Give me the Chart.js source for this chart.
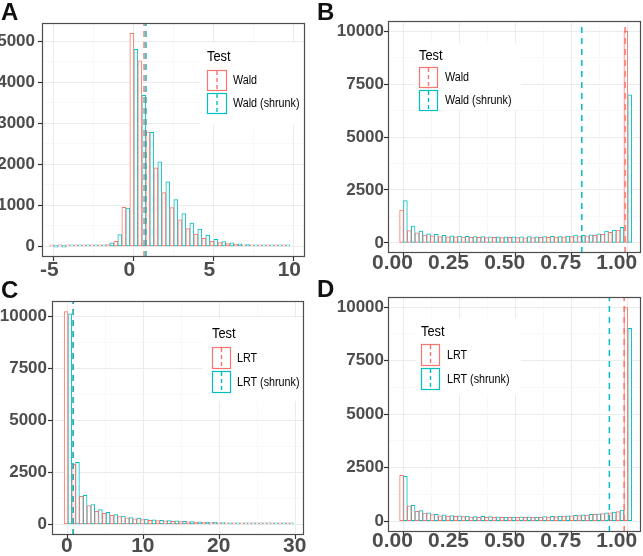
<!DOCTYPE html>
<html><head><meta charset="utf-8">
<script src="https://cdn.jsdelivr.net/npm/chart.js@4.4.1/dist/chart.umd.min.js"></script>
<style>
html,body{margin:0;padding:0;background:#fff;}
#wrap{position:relative;width:643px;height:556px;overflow:hidden;background:#fff;}
canvas{position:absolute;}
.lab{position:absolute;font:bold 24px "Liberation Sans",Arial,sans-serif;line-height:24px;color:#111;z-index:5;}
</style></head><body>
<div id="wrap">
<canvas id="cA" width="321" height="278" style="left:0;top:0;width:321px;height:278px"></canvas>
<canvas id="cB" width="322" height="278" style="left:321px;top:0;width:322px;height:278px"></canvas>
<canvas id="cC" width="321" height="278" style="left:0;top:278px;width:321px;height:278px"></canvas>
<canvas id="cD" width="322" height="278" style="left:321px;top:278px;width:322px;height:278px"></canvas>
<div class="lab" style="left:1px;top:0px">A</div>
<div class="lab" style="left:317px;top:0px">B</div>
<div class="lab" style="left:1px;top:278px">C</div>
<div class="lab" style="left:317px;top:277px">D</div>
</div>
<script>
// ---------------- data ----------------
const SERIES_WALD = ['Wald', 'Wald (shrunk)'];
const SERIES_LRT = ['LRT', 'LRT (shrunk)'];

// Panel A: Wald statistic histogram
const A_BINS = [-4.97,-4.47,-3.97,-3.47,-2.97,-2.47,-1.97,-1.47,-0.97,-0.47,0.03,0.53,1.03,1.53,2.03,2.53,3.03,3.53,4.03,4.53,5.03,5.53,6.03,6.53,7.03,7.53,8.03,8.53,9.03,9.53];
const A_WALD = [4,1,1,2,3,8,18,45,125,950,5190,4520,2790,1915,1310,945,646,436,299,194,121,90,65,50,35,25,20,15,10,8];
const A_WALD_SHRUNK = [0,0,1,2,5,12,30,85,290,930,4800,3680,2780,2060,1570,1140,800,566,420,275,170,115,85,60,42,32,25,15,10,5];
const A_MEANS = [0.67, 0.79];
const A_X_TICKS = [-5, 0, 5, 10];
const A_X_LABELS = ['-5', '0', '5', '10'];
const A_Y_TICKS = [0, 1000, 2000, 3000, 4000, 5000];
const A_Y_LABELS = ['0', '1000', '2000', '3000', '4000', '5000'];

// Panels B and D: p-value histograms
const P_BINS = [0,0.0345,0.069,0.1034,0.1379,0.1724,0.2069,0.2414,0.2759,0.3103,0.3448,0.3793,0.4138,0.4483,0.4828,0.5172,0.5517,0.5862,0.6207,0.6552,0.6897,0.7241,0.7586,0.7931,0.8276,0.8621,0.8966,0.931,0.9655,1.0];
const P_X_TICKS = [0, 0.25, 0.5, 0.75, 1];
const P_X_LABELS = ['0.00', '0.25', '0.50', '0.75', '1.00'];
const P_Y_TICKS = [0, 2500, 5000, 7500, 10000];
const P_Y_LABELS = ['0', '2500', '5000', '7500', '10000'];

const B_WALD = [1550,580,470,370,330,300,290,280,270,260,260,250,260,250,260,250,240,250,260,260,270,280,300,300,330,350,400,500,600,9990];
const B_WALD_SHRUNK = [2000,790,560,430,400,350,330,320,310,300,300,290,290,290,280,290,300,290,300,310,300,320,370,360,380,420,550,600,730,7000];
const B_MEANS = [0.988, 0.795];

// Panel C: LRT statistic histogram
const C_BINS = [0,1.007,2.014,3.021,4.028,5.035,6.042,7.049,8.056,9.063,10.07,11.077,12.084,13.091,14.098,15.105,16.112,17.119,18.126,19.133,20.14,21.147,22.154,23.161,24.168,25.175,26.182,27.189,28.196,29.203];
const C_LRT = [10210,2880,1344,896,624,530,430,380,310,270,230,200,180,170,150,140,120,110,100,90,80,70,65,60,55,50,45,40,35,30];
const C_LRT_SHRUNK = [10100,2976,1392,950,704,580,470,400,330,300,260,220,200,180,170,150,130,120,110,100,90,80,70,65,60,55,50,40,35,25];
const C_MEANS = [0.68, 0.70];
const C_X_TICKS = [0, 10, 20, 30];
const C_X_LABELS = ['0', '10', '20', '30'];

const D_LRT = [2150,717,470,380,310,260,240,230,220,200,190,190,180,180,180,190,180,180,190,200,220,240,260,270,290,330,360,400,450,9970];
const D_LRT_SHRUNK = [2103,748,500,400,330,300,270,250,240,220,230,220,210,200,200,210,210,200,220,230,240,260,280,300,320,350,400,430,520,9000];
const D_MEANS = [0.984, 0.918];

// ---------------- styling ----------------
const RED = '#F8766D', TEAL = '#00BFC4';
const FONT = '"Liberation Sans", Arial, sans-serif';

function narrowText(ctx, txt, x, y, sx) {
  ctx.save();
  ctx.translate(x, y);
  ctx.scale(sx, 1);
  ctx.fillText(txt, 0, 0);
  ctx.restore();
}

const ggPlugin = {
  id: 'ggPanel',
  afterDatasetsDraw(chart, args, o) {
    const ctx = chart.ctx, a = chart.chartArea;
    ctx.save();
    // legend
    const L = o.legend;
    ctx.fillStyle = '#fff';
    ctx.fillRect(L.x, L.y, L.w, L.h);
    ctx.fillStyle = '#000';
    ctx.font = '15px ' + FONT;
    ctx.textBaseline = 'alphabetic';
    ctx.textAlign = 'left';
    narrowText(ctx, 'Test', L.kx, L.ty, 0.86);
    const bars = chart.data.datasets.filter(d => d.type !== 'line');
    bars.forEach((d, i) => {
      const ky = L.ky[i];
      ctx.fillStyle = '#fff';
      ctx.fillRect(L.kx, ky, L.kw, L.kh);
      ctx.strokeStyle = d.borderColor;
      ctx.lineWidth = 1.2;
      ctx.setLineDash([]);
      ctx.strokeRect(L.kx + 0.5, ky + 0.5, L.kw - 1, L.kh - 1);
      ctx.lineWidth = 1.4;
      ctx.setLineDash([4, 3]);
      ctx.beginPath();
      ctx.moveTo(L.kx + L.kw / 2, ky + 1);
      ctx.lineTo(L.kx + L.kw / 2, ky + L.kh - 1);
      ctx.stroke();
      ctx.setLineDash([]);
      ctx.fillStyle = '#000';
      ctx.font = '12.5px ' + FONT;
      ctx.textBaseline = 'middle';
      narrowText(ctx, d.label, L.lx, ky + L.kh / 2 + 0.5, 0.86);
    });
    // panel border
    ctx.strokeStyle = '#4D4D4D';
    ctx.lineWidth = 1.2;
    ctx.strokeRect(Math.round(a.left) + 0.5, Math.round(a.top) + 0.5, Math.round(a.right - a.left) - 1, Math.round(a.bottom - a.top) - 1);
    ctx.restore();
  }
};

function axis(dir, min, max, majors, labels, minors, size, fontSize, pad, loff) {
  const isMajor = v => majors.some(m => Math.abs(m - v) < 1e-9);
  return {
    type: 'linear', min: min, max: max, offset: false,
    afterBuildTicks: s => { s.ticks = majors.concat(minors).sort((p, q) => p - q).map(v => ({ value: v })); },
    afterFit: s => {
      if (dir === 'y') s.width = size; else s.height = size;
      s.paddingLeft = 0; s.paddingRight = 0; s.paddingTop = 0; s.paddingBottom = 0;
    },
    ticks: {
      autoSkip: false, maxRotation: 0, minRotation: 0,
      padding: pad, labelOffset: loff,
      color: '#4D4D4D',
      font: { family: FONT, size: fontSize, weight: 'bold', lineHeight: 1 },
      callback: v => { const i = majors.findIndex(m => Math.abs(m - v) < 1e-9); return i >= 0 ? labels[i] : ''; }
    },
    grid: {
      offset: false,
      drawTicks: true, tickLength: 4,
      color: c => (c.tick && isMajor(c.tick.value)) ? '#EBEBEB' : '#F5F5F5',
      lineWidth: c => (c.tick && isMajor(c.tick.value)) ? 1 : 0.7,
      tickColor: c => (c.tick && isMajor(c.tick.value)) ? '#333333' : 'rgba(0,0,0,0)',
      tickWidth: 1.2
    },
    border: { display: false }
  };
}

function panel(id, cfg) {
  const datasets = [
    { type: 'bar', label: cfg.names[0], data: cfg.bins.map((b, i) => ({ x: b, y: cfg.s1[i] })),
      borderColor: RED, backgroundColor: '#fff', borderWidth: 1, borderSkipped: false, minBarLength: 1.5,
      categoryPercentage: 1, barPercentage: 1, order: 2 },
    { type: 'bar', label: cfg.names[1], data: cfg.bins.map((b, i) => ({ x: b, y: cfg.s2[i] })),
      borderColor: TEAL, backgroundColor: '#fff', borderWidth: 1, borderSkipped: false, minBarLength: 1.5,
      categoryPercentage: 1, barPercentage: 1, order: 2 },
    { type: 'line', label: cfg.names[0] + ' mean', data: [{ x: cfg.means[0], y: cfg.ymin }, { x: cfg.means[0], y: cfg.ymax }],
      borderColor: RED, borderWidth: 1.5, borderDash: [6, 5], pointRadius: 0, fill: false, order: 1 },
    { type: 'line', label: cfg.names[1] + ' mean', data: [{ x: cfg.means[1], y: cfg.ymin }, { x: cfg.means[1], y: cfg.ymax }],
      borderColor: TEAL, borderWidth: 1.5, borderDash: [6, 5], pointRadius: 0, fill: false, order: 0 }
  ];
  new Chart(document.getElementById(id), {
    type: 'bar',
    data: { datasets: datasets },
    plugins: [ggPlugin],
    options: {
      responsive: false, animation: false, devicePixelRatio: 1,
      layout: { autoPadding: false, padding: cfg.pad },
      plugins: { legend: { display: false }, tooltip: { enabled: false }, ggPanel: { legend: cfg.legend } },
      scales: {
        x: axis('x', cfg.xmin, cfg.xmax, cfg.xt, cfg.xl, cfg.xminor, cfg.xh, 21, cfg.xpad, cfg.xoff),
        y: axis('y', cfg.ymin, cfg.ymax, cfg.yt, cfg.yl, cfg.yminor, cfg.yw, 17, cfg.ypad, 0)
      }
    }
  });
}

panel('cA', {
  names: SERIES_WALD, bins: A_BINS, s1: A_WALD, s2: A_WALD_SHRUNK, means: A_MEANS,
  xmin: -5.71, xmax: 10.73, xt: A_X_TICKS, xl: A_X_LABELS, xminor: [-2.5, 2.5, 7.5],
  ymin: -259, ymax: 5440, yt: A_Y_TICKS, yl: A_Y_LABELS, yminor: [500, 1500, 2500, 3500, 4500],
  pad: { left: 0, right: 16, top: 23, bottom: 0 }, yw: 42, xh: 21, xpad: -1, xoff: -4, ypad: 3,
  legend: { x: 200, y: 43, w: 105, h: 82, kx: 207, ty: 61, ky: [70, 93], kw: 20, kh: 21, lx: 233 }
});
panel('cB', {
  names: SERIES_WALD, bins: P_BINS, s1: B_WALD, s2: B_WALD_SHRUNK, means: B_MEANS,
  xmin: -0.069, xmax: 1.059, xt: P_X_TICKS, xl: P_X_LABELS, xminor: [0.125, 0.375, 0.625, 0.875],
  ymin: -480, ymax: 10483, yt: P_Y_TICKS, yl: P_Y_LABELS, yminor: [1250, 3750, 6250, 8750],
  pad: { left: 0, right: 2, top: 21, bottom: 0 }, yw: 67, xh: 25, xpad: -4, xoff: -11, ypad: 0,
  legend: { x: 93, y: 43, w: 107, h: 67, kx: 98, ty: 60, ky: [67, 90], kw: 19, kh: 21, lx: 124 }
});
panel('cC', {
  names: SERIES_LRT, bins: C_BINS, s1: C_LRT, s2: C_LRT_SHRUNK, means: C_MEANS,
  xmin: -2.1, xmax: 31.1, xt: C_X_TICKS, xl: C_X_LABELS, xminor: [5, 15, 25],
  ymin: -510, ymax: 10720, yt: P_Y_TICKS, yl: P_Y_LABELS, yminor: [1250, 3750, 6250, 8750],
  pad: { left: 0, right: 17, top: 23, bottom: 0 }, yw: 52, xh: 21, xpad: -3, xoff: -1, ypad: 1,
  legend: { x: 203, y: 40, w: 101, h: 83, kx: 212, ty: 60, ky: [69, 93], kw: 19, kh: 22, lx: 237 }
});
panel('cD', {
  names: SERIES_LRT, bins: P_BINS, s1: D_LRT, s2: D_LRT_SHRUNK, means: D_MEANS,
  xmin: -0.069, xmax: 1.059, xt: P_X_TICKS, xl: P_X_LABELS, xminor: [0.125, 0.375, 0.625, 0.875],
  ymin: -500, ymax: 10467, yt: P_Y_TICKS, yl: P_Y_LABELS, yminor: [1250, 3750, 6250, 8750],
  pad: { left: 0, right: 2, top: 19, bottom: 0 }, yw: 67, xh: 24, xpad: -5, xoff: -11, ypad: 0,
  legend: { x: 95, y: 40, w: 105, h: 77, kx: 100, ty: 58, ky: [66, 90], kw: 19, kh: 22, lx: 126 }
});
</script>
</body></html>
